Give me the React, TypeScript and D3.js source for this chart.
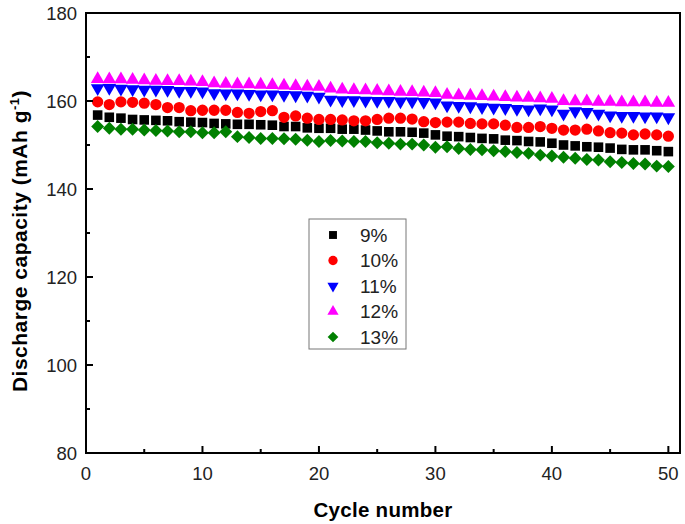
import { useEffect, useRef } from "react";
import * as d3 from "d3";

const cycles = d3.range(1, 51);

const cap9 = [
  156.8, 156.3, 156.1, 155.8, 155.7, 155.6, 155.5, 155.3, 155.2, 155.1,
  154.9, 154.8, 154.7, 154.7, 154.6, 154.5, 154.2, 154.2, 153.9, 153.8,
  153.8, 153.6, 153.6, 153.4, 153.2, 153.0, 153.0, 152.9, 152.7, 152.3,
  152.0, 151.9, 151.7, 151.5, 151.4, 151.1, 151.0, 150.8, 150.7, 150.4,
  150.0, 149.8, 149.6, 149.5, 149.3, 149.0, 148.9, 148.9, 148.7, 148.5,
];
const cap10 = [
  159.8, 159.2, 159.8, 159.7, 159.5, 159.2, 158.5, 158.5, 157.8, 157.9,
  157.9, 157.9, 157.4, 157.2, 157.6, 157.8, 156.3, 156.6, 156.1, 155.8,
  155.8, 155.7, 155.5, 155.5, 155.8, 156.1, 156.1, 155.9, 155.3, 155.1,
  155.2, 155.2, 154.9, 154.8, 154.8, 154.5, 154.0, 154.0, 154.2, 153.8,
  153.4, 153.4, 153.6, 153.2, 152.8, 152.7, 152.3, 152.5, 152.3, 152.0,
];
const cap11 = [
  162.9, 163.0, 162.8, 162.7, 162.6, 162.6, 162.5, 162.3, 162.3, 162.2,
  161.8, 161.7, 161.7, 161.6, 161.5, 161.5, 161.4, 161.3, 161.2, 161.0,
  160.3, 160.2, 160.2, 160.1, 160.0, 160.0, 159.9, 159.9, 159.8, 159.7,
  159.0, 158.9, 158.8, 158.6, 158.5, 158.4, 158.2, 158.1, 158.3, 158.1,
  157.1, 157.7, 157.5, 157.1, 156.7, 156.6, 156.6, 156.5, 156.5, 156.3,
];
const cap12 = [
  165.0, 164.9, 164.9, 164.8, 164.7, 164.6, 164.5, 164.5, 164.4, 164.3,
  164.0, 163.9, 163.8, 163.8, 163.7, 163.6, 163.5, 163.4, 163.3, 163.2,
  162.8, 162.6, 162.5, 162.4, 162.3, 162.2, 162.1, 162.0, 161.9, 161.8,
  161.4, 161.3, 161.2, 161.1, 161.0, 160.9, 160.8, 160.7, 160.6, 160.5,
  160.0, 159.9, 159.9, 159.8, 159.8, 159.7, 159.7, 159.7, 159.6, 159.6,
];
const cap13 = [
  154.2, 153.8, 153.6, 153.6, 153.4, 153.3, 153.2, 153.0, 153.0, 152.8,
  152.8, 153.0, 151.9, 151.7, 151.5, 151.5, 151.4, 151.3, 151.1, 150.8,
  151.0, 150.9, 150.8, 150.8, 150.5, 150.4, 150.2, 150.2, 150.0, 149.5,
  149.6, 149.2, 149.0, 148.9, 148.7, 148.5, 148.3, 148.1, 147.7, 147.5,
  147.2, 147.0, 146.7, 146.6, 146.2, 146.0, 145.8, 145.7, 145.2, 145.1,
];

const seriesLabels = ["9%", "10%", "11%", "12%", "13%"];
const xTicks = [0, 10, 20, 30, 40, 50];
const yTicks = [80, 100, 120, 140, 160, 180];

const series = [
  { label: seriesLabels[0], values: cap9, color: "#000000", shape: d3.symbolSquare, size: 92, rotate: 0 },
  { label: seriesLabels[1], values: cap10, color: "#ff0000", shape: d3.symbolCircle, size: 100, rotate: 0 },
  { label: seriesLabels[2], values: cap11, color: "#0000ff", shape: d3.symbolTriangle, size: 80, rotate: 180 },
  { label: seriesLabels[3], values: cap12, color: "#ff00ff", shape: d3.symbolTriangle, size: 80, rotate: 0 },
  { label: seriesLabels[4], values: cap13, color: "#008000", shape: d3.symbolSquare, size: 84, rotate: 45 },
];

const W = 685;
const H = 524;
const FONT = "Arial, 'Liberation Sans', Helvetica, sans-serif";

export default function App() {
  const svgRef = useRef<SVGSVGElement>(null);

  useEffect(() => {
    const svg = d3.select(svgRef.current!);
    svg.selectAll("*").remove();

    const left = 86, right = 680, top = 13, bottom = 453;
    const x = d3.scaleLinear().domain([0, 51]).range([left, right]);
    const y = d3.scaleLinear().domain([80, 180]).range([bottom, top]);

    // markers
    series.forEach((s) => {
      const sym = d3.symbol().type(s.shape).size(s.size);
      svg
        .append("g")
        .selectAll("path")
        .data(cycles)
        .join("path")
        .attr("d", sym()!)
        .attr("fill", s.color)
        .attr(
          "transform",
          (c, i) => `translate(${x(c)},${y(s.values[i])}) rotate(${s.rotate})`
        );
    });

    // frame
    svg
      .append("rect")
      .attr("x", left)
      .attr("y", top)
      .attr("width", right - left)
      .attr("height", bottom - top)
      .attr("fill", "none")
      .attr("stroke", "#000")
      .attr("stroke-width", 2);

    // ticks point inward
    const ax = svg.append("g").attr("stroke", "#000").attr("stroke-width", 2);
    d3.range(0, 51, 5).forEach((t) => {
      const len = t % 10 === 0 ? 7 : 4;
      ax.append("line")
        .attr("x1", x(t)).attr("x2", x(t))
        .attr("y1", bottom).attr("y2", bottom - len);
    });
    d3.range(80, 181, 10).forEach((t) => {
      const len = t % 20 === 0 ? 7 : 4;
      ax.append("line")
        .attr("x1", left).attr("x2", left + len)
        .attr("y1", y(t)).attr("y2", y(t));
    });

    svg
      .append("g")
      .selectAll("text")
      .data(xTicks)
      .join("text")
      .attr("x", (d) => x(d))
      .attr("y", 480)
      .attr("text-anchor", "middle")
      .attr("font-family", FONT)
      .attr("font-size", 18.5)
      .attr("fill", "#222")
      .text((d) => d);

    svg
      .append("g")
      .selectAll("text")
      .data(yTicks)
      .join("text")
      .attr("x", 77)
      .attr("y", (d) => y(d))
      .attr("dy", "0.36em")
      .attr("text-anchor", "end")
      .attr("font-family", FONT)
      .attr("font-size", 18.5)
      .attr("fill", "#222")
      .text((d) => d);

    // axis titles
    svg
      .append("text")
      .attr("x", 383)
      .attr("y", 517)
      .attr("text-anchor", "middle")
      .attr("font-family", FONT)
      .attr("font-size", 20.5)
      .attr("font-weight", "bold")
      .attr("letter-spacing", 0.3)
      .text("Cycle number");

    const yt = svg
      .append("text")
      .attr("transform", "translate(27,241) rotate(-90)")
      .attr("text-anchor", "middle")
      .attr("font-family", FONT)
      .attr("font-size", 21)
      .attr("font-weight", "bold")
      .attr("letter-spacing", 0.5);
    yt.append("tspan").text("Discharge capacity (mAh g");
    yt.append("tspan").attr("dy", -8).attr("font-size", 13).text("-1");
    yt.append("tspan").attr("dy", 8).text(")");

    // legend
    const lg = svg.append("g");
    lg.append("rect")
      .attr("x", 309).attr("y", 219)
      .attr("width", 97).attr("height", 130)
      .attr("fill", "#fff")
      .attr("stroke", "#777")
      .attr("stroke-width", 1);
    series.forEach((s, i) => {
      const cy = 235 + i * 25.5;
      const sym = d3.symbol().type(s.shape).size(s.size * 0.68);
      lg.append("path")
        .attr("d", sym()!)
        .attr("fill", s.color)
        .attr("transform", `translate(333,${cy}) rotate(${s.rotate})`);
      lg.append("text")
        .attr("x", 360)
        .attr("y", cy)
        .attr("dy", "0.36em")
        .attr("font-family", FONT)
        .attr("font-size", 19)
        .attr("fill", "#222")
        .text(s.label);
    });
  }, []);

  return (
    <svg
      ref={svgRef}
      width={W}
      height={H}
      style={{ position: "absolute", left: 0, top: 0, background: "#fff" }}
    />
  );
}
